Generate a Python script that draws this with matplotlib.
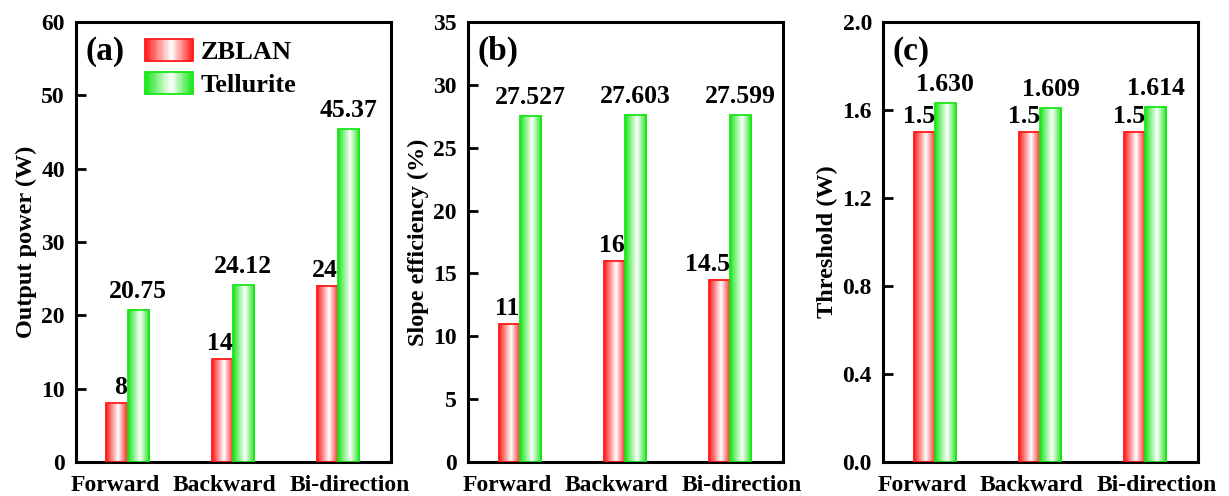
import matplotlib
matplotlib.use('Agg')
import matplotlib.pyplot as plt
import numpy as np
from matplotlib.colors import LinearSegmentedColormap
from matplotlib.patches import Rectangle
from matplotlib.legend_handler import HandlerBase

plt.rcParams['font.family'] = 'Liberation Serif'
plt.rcParams['font.weight'] = 'bold'

categories = ['Forward', 'Backward', 'Bi-direction']
series = ['ZBLAN', 'Tellurite']

power_zblan = [8, 14, 24]
power_tell = [20.75, 24.12, 45.37]
slope_zblan = [11, 16, 14.5]
slope_tell = [27.527, 27.603, 27.599]
thresh_zblan = [1.5, 1.5, 1.5]
thresh_tell = [1.630, 1.609, 1.614]

red = '#ff1a1a'
green = '#19e619'


def grad_cmap(c):
    return LinearSegmentedColormap.from_list('g', [(0, c), (0.55, 'white'), (1, c)])


def grad_bars(ax, xs, vals, color, width):
    cm = grad_cmap(color)
    g = np.linspace(0, 1, 256).reshape(1, -1)
    bars = ax.bar(xs, vals, width, align='edge', facecolor='none',
                  edgecolor=color, linewidth=1.3, zorder=3)
    for b in bars:
        x0, w, h = b.get_x(), b.get_width(), b.get_height()
        ax.imshow(g, extent=[x0, x0 + w, 0, h], aspect='auto', cmap=cm,
                  interpolation='bilinear', zorder=2)
    return bars


class GradHandler(HandlerBase):
    def __init__(self, color):
        super().__init__()
        self.color = color

    def create_artists(self, legend, orig, xd, yd, width, height, fontsize, trans):
        cm = grad_cmap(self.color)
        n = 40
        arts = []
        for i in range(n):
            r = Rectangle((-xd + width * i / n, -yd), width / n + 0.3, height,
                          facecolor=cm((i + 0.5) / n), edgecolor='none', transform=trans)
            arts.append(r)
        arts.append(Rectangle((-xd, -yd), width, height, facecolor='none',
                              edgecolor=self.color, linewidth=1.3, transform=trans))
        return arts


fig = plt.figure(figsize=(12.29, 4.96), dpi=100)
lefts = [0.0618, 0.3808, 0.7185]
panels = [
    ('(a)', power_zblan, power_tell, 'Output power (W)', (0, 60), np.arange(0, 61, 10), '{:.0f}', '{:.2f}'),
    ('(b)', slope_zblan, slope_tell, 'Slope efficiency (%)', (0, 35), np.arange(0, 36, 5), '{:.0f}', '{:.3f}'),
    ('(c)', thresh_zblan, thresh_tell, 'Threshold (W)', (0, 2.0), np.arange(0, 2.01, 0.4), '{:.1f}', '{:.3f}'),
]

x = np.arange(len(categories))
w = 0.2
# category labels sit a little apart so the long ones don't collide
label_shift = np.array([-0.12, -0.08, 0.11])
for left, (tag, zb, te, ylab, ylim, yt, yfmt, tfmt) in zip(lefts, panels):
    ax = fig.add_axes([left, 0.0685, 0.2562, 0.8871])
    b1 = grad_bars(ax, x - w, zb, red, w)
    b2 = grad_bars(ax, x, te, green, w)
    for xi, v in zip(x, zb):
        ax.annotate('{:g}'.format(v), (xi, v), xytext=(0, 3), textcoords='offset points',
                    ha='right', va='bottom', fontsize=18.5, fontweight='bold')
    for xi, v in zip(x, te):
        ax.annotate(tfmt.format(v), (xi + w / 2, v), xytext=(0, 5), textcoords='offset points',
                    ha='center', va='bottom', fontsize=18.5, fontweight='bold')
    ax.set_xlim(-0.49, 2.5)
    ax.set_ylim(*ylim)
    ax.set_yticks(yt)
    ax.set_yticklabels([yfmt.format(t) for t in yt])
    ax.set_xticks(x + label_shift)
    ax.set_xticklabels(categories)
    ax.tick_params(axis='y', direction='in', length=7, width=2, labelsize=17, pad=8)
    ax.tick_params(axis='x', length=0, labelsize=17, pad=9)
    for s in ax.spines.values():
        s.set_linewidth(2.2)
    ax.set_ylabel(ylab, fontsize=17.5, fontweight='bold', labelpad=3)
    ax.text(0.03, 0.968, tag, transform=ax.transAxes, ha='left', va='top',
            fontsize=24, fontweight='bold')
    if tag == '(a)':
        ax.legend([b1, b2], series, handler_map={b1: GradHandler(red), b2: GradHandler(green)},
                  loc='upper left', bbox_to_anchor=(0.22, 0.962), frameon=False,
                  fontsize=19, handlelength=1.8, handleheight=0.9, handletextpad=0.3,
                  labelspacing=0.3, borderpad=0, borderaxespad=0)

fig.savefig('out.png', dpi=100)
